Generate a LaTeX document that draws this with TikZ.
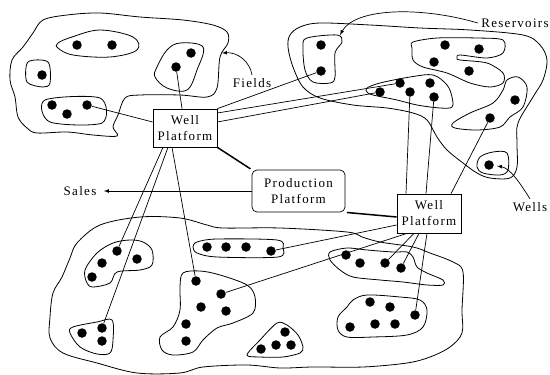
\documentclass[tikz,border=0pt]{standalone}
\usepackage{fontspec}
\setmainfont{Liberation Serif}[LetterSpace=10]
\usepackage{tikz}

\tikzset{
    every node/.style={font=\fontsize{13}{16}\selectfont},
    platform/.style={draw, fill=white, line width=0.7pt, minimum width=64pt,
        minimum height=38pt, inner sep=0pt, align=center},
    prodplatform/.style={platform, rounded corners=5pt, minimum width=93pt,
        minimum height=42pt},
    field/.style={line width=0.8pt},
    well/.style={circle, fill=black, inner sep=0pt, minimum size=9.5pt},
    pipe/.style={line width=0.7pt},
    mainpipe/.style={line width=1.5pt},
    callout/.style={-latex, line width=0.7pt}
}

\begin{document}
\begin{tikzpicture}[x=1pt, y=-1pt]
    \useasboundingbox (0,0) rectangle (550,375);

    \draw[field] plot[smooth cycle, tension=0.55] coordinates {
        (117,136) (113,127) (118,115) (125,98) (140,95) (180,95) (207,97)
        (217,88) (220,57) (228,43) (227,32) (213,25) (183,20) (140,17)
        (100,13) (67,15) (43,20) (33,33) (23,47) (12,60) (10,80) (15,97)
        (18,117) (27,128) (37,133) (67,132) (93,135)};
    \draw[field] plot[smooth cycle, tension=0.55] coordinates {
        (290,35) (288,47) (293,67) (303,87) (320,98) (353,105) (387,108)
        (413,113) (427,120) (437,137) (447,150) (463,163) (477,173) (490,178)
        (510,178) (517,167) (517,143) (518,123) (533,97) (543,80) (547,60)
        (540,45) (523,35) (470,30) (420,28) (370,25) (320,23) (300,27)};
    \draw[field] plot[smooth cycle, tension=0.55] coordinates {
        (100,225) (140,217) (180,218) (207,225) (223,228) (280,228) (347,232)
        (362,237) (380,242) (413,247) (430,253) (453,262) (463,272) (462,310)
        (462,333) (450,347) (430,357) (407,363) (363,367) (313,367) (280,368)
        (247,365) (203,367) (180,373) (137,373) (97,363) (63,353) (50,338)
        (50,317) (53,293) (62,277) (70,258) (77,243)};

    \draw[field] plot[smooth cycle, tension=0.6] coordinates {
        (58,43) (72,37) (100,30) (133,37) (137,50) (110,57) (73,55) (58,48)};
    \draw[field] plot[smooth cycle, tension=0.5] coordinates {
        (28,62) (48,62) (50,83) (43,87) (27,82)};
    \draw[field] plot[smooth cycle, tension=0.5] coordinates {
        (45,100) (100,98) (102,123) (50,122)};
    \draw[field] plot[smooth cycle, tension=0.6] coordinates {
        (157,67) (167,50) (180,43) (203,47) (197,70) (187,90) (167,88) (155,77)};

    \draw[field] plot[smooth cycle, tension=0.55] coordinates {
        (307,38) (337,35) (342,42) (335,53) (335,77) (330,83) (313,82)
        (305,70) (303,47)};
    \draw[field] plot[smooth cycle, tension=0.5] coordinates {
        (413,42) (437,38) (477,38) (503,40) (503,53) (487,58) (460,55)
        (457,58) (460,60) (487,63) (503,73) (503,83) (490,87) (470,83)
        (447,73) (423,67) (413,60) (412,48)};
    \draw[field] plot[smooth cycle, tension=0.55] coordinates {
        (367,88) (380,83) (410,77) (433,75) (447,85) (452,97) (452,107)
        (440,108) (417,105) (397,100) (373,95) (367,92)};
    \draw[field] plot[smooth cycle, tension=0.55] coordinates {
        (507,80) (518,77) (527,87) (523,107) (510,117) (500,127) (477,130)
        (455,128) (453,123) (470,113) (493,103) (503,90)};
    \draw[field] plot[smooth cycle, tension=0.55] coordinates {
        (480,157) (493,152) (507,153) (508,170) (500,175) (483,173) (477,167)};

    \draw[field] plot[smooth cycle, tension=0.55] coordinates {
        (113,243) (130,240) (143,242) (152,250) (152,265) (140,270) (117,272)
        (110,283) (93,287) (87,283) (85,270) (97,253)};
    \draw[field] plot[smooth cycle, tension=0.55] coordinates {
        (73,327) (97,322) (112,320) (113,340) (110,353) (97,354) (80,347) (70,333)};
    \draw[field] plot[smooth cycle, tension=0.5] coordinates {
        (197,242) (217,239) (277,240) (283,248) (278,257) (217,257) (197,253)
        (193,247)};
    \draw[field] plot[smooth cycle, tension=0.55] coordinates {
        (183,273) (200,271) (220,275) (247,285) (255,297) (253,313) (233,323)
        (217,328) (203,340) (193,352) (173,355) (162,350) (160,337) (173,327)
        (180,310) (180,287)};
    \draw[field] plot[smooth cycle, tension=0.5] coordinates {
        (247,355) (260,340) (277,323) (287,325) (298,335) (303,347) (300,353)
        (283,357) (260,357)};
    \draw[field] plot[smooth cycle, tension=0.5] coordinates {
        (330,252) (347,248) (367,250) (393,252) (407,252) (413,257) (417,267)
        (427,273) (443,280) (443,285) (427,285) (403,282) (380,280) (353,277)
        (340,270) (330,260)};
    \draw[field] plot[smooth cycle, tension=0.55] coordinates {
        (353,300) (367,295) (400,297) (420,300) (427,310) (423,327) (407,335)
        (373,337) (347,337) (338,330) (338,317) (347,307)};

    \foreach \p [count=\i] in {(77,45),(112,45)} \node[well] (nwa\i) at \p {};
    \node[well] (nwb1) at (42,75) {};
    \foreach \p [count=\i] in {(52,105),(67,114),(87,105)} \node[well] (nwc\i) at \p {};
    \foreach \p [count=\i] in {(191,53),(176,67)} \node[well] (nwd\i) at \p {};

    \foreach \p [count=\i] in {(321,45),(321,71)} \node[well] (nea\i) at \p {};
    \foreach \p [count=\i] in {(445,45),(479,49),(434,62),(469,71)} \node[well] (neb\i) at \p {};
    \foreach \p [count=\i] in {(380,92),(400,83),(410,92),(430,83),(434,97)}
        \node[well] (nec\i) at \p {};
    \foreach \p [count=\i] in {(515,100),(490,118)} \node[well] (ned\i) at \p {};
    \node[well] (nee1) at (489,165) {};

    \foreach \p [count=\i] in {(117,251),(137,259),(102,263),(92,277)} \node[well] (sa\i) at \p {};
    \foreach \p [count=\i] in {(82,333),(102,328),(102,341)} \node[well] (sb\i) at \p {};
    \foreach \p [count=\i] in {(207,247),(226,247),(246,247),(271,251)} \node[well] (sc\i) at \p {};
    \foreach \p [count=\i] in {(196,281),(221,294),(201,307),(226,311),(186,324),(186,341)}
        \node[well] (sd\i) at \p {};
    \foreach \p [count=\i] in {(285,332),(261,349),(276,345),(291,345)} \node[well] (se\i) at \p {};
    \foreach \p [count=\i] in {(346,255),(360,263),(385,263),(401,268)} \node[well] (sf\i) at \p {};
    \foreach \p [count=\i] in {(370,302),(390,307),(415,315),(350,327),(375,324),(395,324)}
        \node[well] (sg\i) at \p {};

    \node[platform] (wp1) at (185,128) {Well\\Platform};
    \node[platform, minimum height=39pt] (wp2) at (429,213.5) {Well\\Platform};
    \node[prodplatform] (prod) at (298.5,191) {Production\\Platform};

    \node (sales) at (80,191) {Sales};
    \node (fields) at (252,83) {Fields};
    \node (reservoirs) at (515,23) {Reservoirs};
    \node (wells) at (530,207) {Wells};

    \draw[pipe] ([xshift=-3pt]wp1.north) -- (nwd2);
    \draw[pipe] ([yshift=6pt]wp1.west) -- (nwc3);
    \draw[pipe] (wp1.north east) -- (nea2);
    \draw[pipe] ([yshift=15pt]wp1.east) -- (nec2);
    \draw[pipe] ([yshift=6pt]wp1.east) -- (nec1);
    \draw[pipe] ([xshift=-22pt]wp1.south) -- (sa1);
    \draw[pipe] ([xshift=-17pt]wp1.south) -- (sb2);
    \draw[pipe] ([xshift=-13pt]wp1.south) -- (sd1);

    \draw[pipe] ([xshift=-23pt]wp2.north) -- (nec3);
    \draw[pipe] ([xshift=-3pt]wp2.north) -- (nec5);
    \draw[pipe] ([xshift=22pt]wp2.north) -- (ned2);
    \draw[pipe] ([yshift=-11.5pt]wp2.west) -- (sc4);
    \draw[pipe] ([xshift=-22pt]wp2.south) -- (sd2);
    \draw[pipe] ([xshift=-15pt]wp2.south) -- (sf3);
    \draw[pipe] ([xshift=-10pt]wp2.south) -- (sf4);
    \draw[pipe] ([xshift=-2pt]wp2.south) -- (sg3);

    \draw[mainpipe, shorten >=1.5pt] (wp1.south east) -- (prod.north west);
    \draw[mainpipe, shorten <=1.5pt] (prod.south east) -- ([yshift=-3.5pt]wp2.west);
    \draw[callout, shorten >=4pt] (prod.west) -- (sales.east);

    \draw[callout] (fields.north) .. controls (250,62) and (238,52) .. (222,53);
    \draw[callout] (reservoirs.west) .. controls (420,6) and (355,8) .. (340,35);
    \draw[callout] (wells.north) .. controls (520,183) and (510,168) .. (497,166);
\end{tikzpicture}
\end{document}
